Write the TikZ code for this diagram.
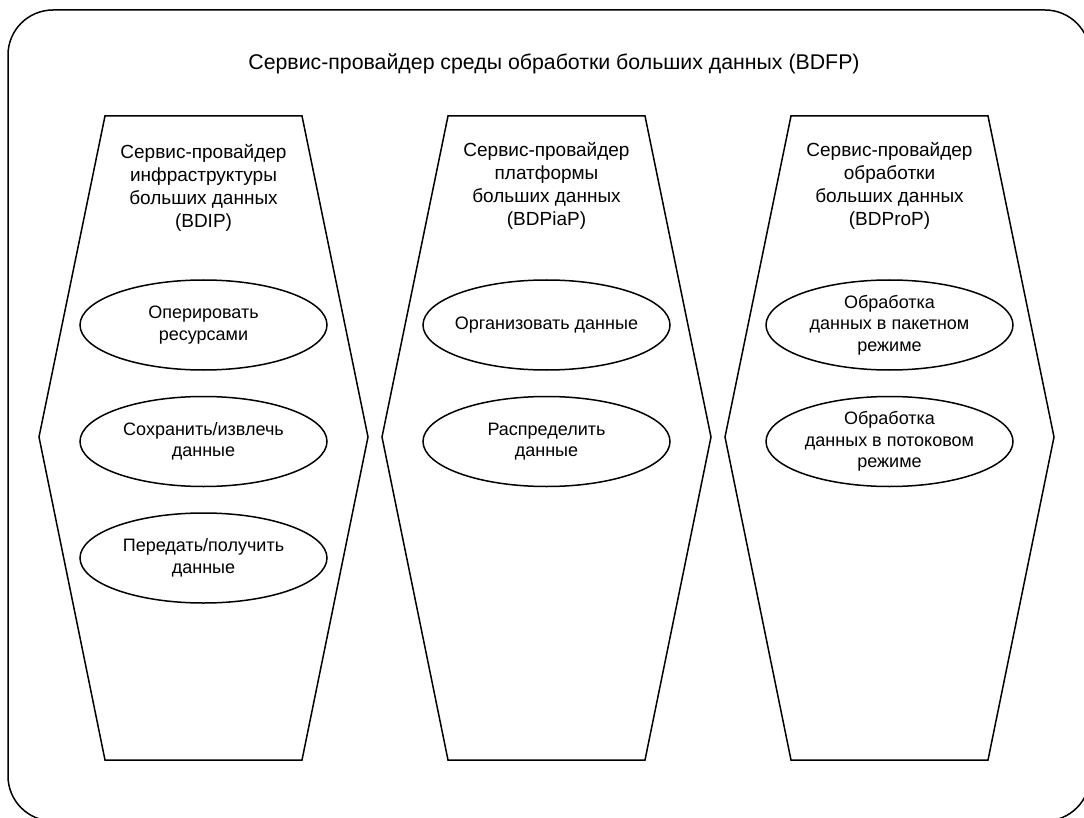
\documentclass[tikz,border=0pt]{standalone}
\usepackage{fontspec}
\setmainfont{Liberation Sans}
\usetikzlibrary{positioning,chains,shapes.geometric}

\begin{document}
\begin{tikzpicture}[x=1pt,y=-1pt,
		  line width=1.5pt,
		  every node/.style={align=center},
		  titlenode/.style={font=\fontsize{21.3}{25}\selectfont},
		  provnode/.style={font=\fontsize{19}{23}\selectfont},
		  funcnode/.style={draw,ellipse,inner sep=-12pt,minimum width=247pt,minimum height=90pt,
		    font=\fontsize{18}{21.5}\selectfont}
		]
			\useasboundingbox (0,0) rectangle (1084,818);

			% the frame of BDFP
			\draw [rounded corners=45pt] (8,10) rectangle (1090,821);
			\node[titlenode] (bdfp) at (554,64) {Сервис-провайдер среды обработки больших данных (BDFP)};

			% the hexagons of the providers
			\foreach \x in {203.5,546.5,889.5}
			  \draw (\x-98.5,116) -- (\x+98.5,116) -- (\x+164.5,437) -- (\x+98.5,760)
			    -- (\x-98.5,760) -- (\x-164.5,437) -- cycle;

			% the roles of BDIP
			\begin{scope}[xshift=203.5pt,start chain=going below,node distance=25pt]
			\node[provnode] (bdip) at (0,188) {Сервис-провайдер\\инфраструктуры\\больших данных\\(BDIP)};
			\node[funcnode,on chain] (ip1) at (0,325) {Оперировать\\ресурсами};
			\node[funcnode,on chain] (ip2) {Сохранить/извлечь\\данные};
			\node[funcnode,on chain] (ip3) {Передать/получить\\данные};
			\end{scope}

			% the roles of BDPiaP
			\begin{scope}[xshift=546.5pt,start chain=going below,node distance=25pt]
			\node[provnode] (bdpiap) at (0,186) {Сервис-провайдер\\платформы\\больших данных\\(BDPiaP)};
			\node[funcnode,on chain] (pa1) at (0,325) {Организовать данные};
			\node[funcnode,on chain] (pa2) {Распределить\\данные};
			\end{scope}

			% the roles of BDProP
			\begin{scope}[xshift=889.5pt,start chain=going below,node distance=25pt]
			\node[provnode] (bdprop) at (0,186) {Сервис-провайдер\\обработки\\больших данных\\(BDProP)};
			\node[funcnode,on chain] (pr1) at (0,325) {Обработка\\данных в пакетном\\режиме};
			\node[funcnode,on chain] (pr2) {Обработка\\данных в потоковом\\режиме};
			\end{scope}

		\end{tikzpicture}
\end{document}
